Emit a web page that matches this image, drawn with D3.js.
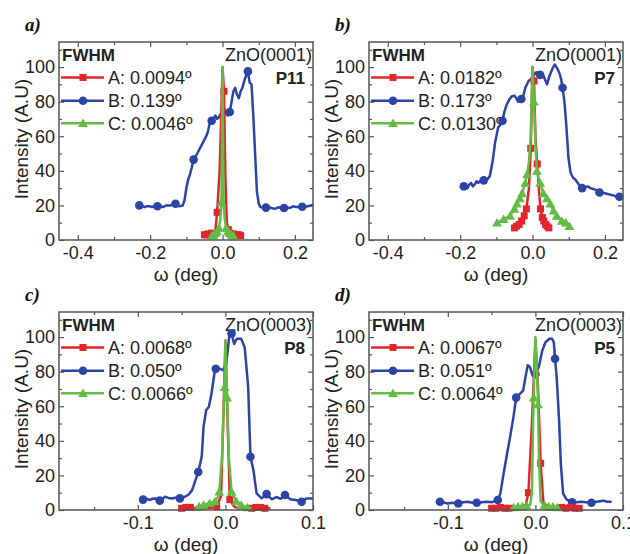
<!DOCTYPE html>
<html>
<head>
<meta charset="utf-8">
<script src="https://cdn.jsdelivr.net/npm/d3@7"></script>
<style>
  body { margin: 0; background: #fff; }
  svg { display: block; font-family: "Liberation Sans", Arial, sans-serif; }
</style>
</head>
<body>
<svg id="chart" width="630" height="554"></svg>
<script>
// omega scans, intensity normalised to 100
const blueA = [[-0.23,20],[-0.225,20],[-0.22,19.5],[-0.215,19],[-0.21,19.5],[-0.2,19.5],[-0.195,19],[-0.19,19.5],[-0.18,19.5],[-0.17,19.5],[-0.165,19],[-0.155,20],[-0.145,20],[-0.135,20.5],[-0.13,21],[-0.12,19.5],[-0.11,20],[-0.105,23],[-0.1,30],[-0.095,35],[-0.09,38],[-0.085,42],[-0.08,46.5],[-0.075,48],[-0.07,50],[-0.06,54],[-0.05,58],[-0.045,60],[-0.04,63],[-0.035,68],[-0.03,69],[-0.025,70],[-0.02,72],[-0.015,70],[-0.01,71],[-0.005,73],[0,75],[0.005,76],[0.01,73],[0.015,72],[0.02,74],[0.025,80],[0.03,86],[0.035,88],[0.04,84],[0.045,82],[0.05,86],[0.055,88],[0.06,92],[0.065,95],[0.07,97.5],[0.075,91],[0.08,90],[0.085,72],[0.09,50],[0.095,28],[0.1,21],[0.105,19],[0.115,18.5],[0.125,19],[0.135,18.5],[0.145,18],[0.155,19],[0.165,18],[0.175,19],[0.185,18.5],[0.195,19.5],[0.205,19],[0.215,19.5],[0.225,19],[0.235,19.5],[0.245,20],[0.25,20.5]];
const blueAMarks = [[-0.23,20],[-0.18,19.5],[-0.13,21],[-0.08,46.5],[-0.03,69],[0.02,74],[0.07,97.5],[0.12,18.7],[0.17,18.5],[0.22,19.2]];
const redA = [[-0.05,3],[-0.045,3],[-0.04,3.5],[-0.035,3],[-0.03,4],[-0.025,3],[-0.02,5],[-0.015,16],[-0.008,40],[0,100],[0.004,86],[0.008,35],[0.012,10],[0.016,6],[0.02,4],[0.025,3],[0.03,3.5],[0.035,3],[0.04,3],[0.045,3],[0.05,2.5],[0.055,2.5]];
const redAMarks = [[-0.05,3],[-0.045,3],[-0.04,3.5],[-0.035,3],[-0.03,4],[-0.025,3],[-0.015,16],[0.004,86],[0.016,6],[0.02,4],[0.025,3],[0.03,3.5],[0.035,3],[0.04,3],[0.045,3],[0.05,2.5]];
const greenA = [[-0.035,2],[-0.03,2.5],[-0.025,3],[-0.02,4],[-0.015,5],[-0.01,7],[-0.006,12],[-0.003,22],[-0.001,70],[0,100],[0.001,70],[0.003,22],[0.006,12],[0.01,7],[0.015,5],[0.02,4],[0.025,3],[0.03,2.5],[0.035,2]];
const greenAMarks = [[-0.03,2.5],[-0.025,3],[-0.02,4],[-0.015,5],[-0.01,7],[-0.003,22],[0.01,7],[0.015,5],[0.02,4],[0.025,3],[0.03,2.5]];

const blueB = [[-0.195,31.5],[-0.19,31],[-0.185,30.5],[-0.18,30],[-0.175,32],[-0.17,33],[-0.165,31],[-0.16,32],[-0.155,34],[-0.15,33],[-0.145,34],[-0.14,35],[-0.135,34.5],[-0.125,35],[-0.118,37],[-0.11,46],[-0.103,57],[-0.095,65],[-0.088,67],[-0.083,69],[-0.078,74],[-0.072,78],[-0.065,81],[-0.058,83],[-0.05,83.5],[-0.045,82],[-0.04,80],[-0.031,81.5],[-0.026,83],[-0.02,88],[-0.011,92],[-0.005,93],[0,94],[0.006,96],[0.011,97],[0.016,96.5],[0.021,95.5],[0.025,96],[0.03,95],[0.034,93],[0.04,90],[0.047,95],[0.055,99],[0.061,101.5],[0.066,100],[0.07,98.5],[0.075,96],[0.079,93],[0.083,88],[0.088,80],[0.092,70],[0.096,58],[0.099,48],[0.105,39],[0.112,36],[0.118,35],[0.125,33],[0.132,31],[0.137,30],[0.145,30.5],[0.152,31],[0.16,30],[0.168,29.5],[0.175,29],[0.185,27.5],[0.19,27.5],[0.2,27],[0.21,26.5],[0.218,26],[0.228,25.5],[0.24,25],[0.245,24]];
const blueBMarks = [[-0.19,31],[-0.135,34.5],[-0.083,69],[-0.031,81.5],[0.021,95.5],[0.083,88],[0.137,30],[0.185,27.5],[0.24,25]];
const redB = [[-0.05,7],[-0.044,8],[-0.037,9],[-0.03,11],[-0.023,14],[-0.017,18],[-0.01,30],[-0.005,53],[0,100],[0.004,92],[0.008,60],[0.013,44],[0.018,28],[0.022,18],[0.027,13],[0.031,11],[0.036,9],[0.04,8],[0.045,7]];
const redBMarks = [[-0.05,7],[-0.044,8],[-0.037,9],[-0.03,11],[-0.023,14],[-0.017,18],[-0.005,53],[0.004,92],[0.013,44],[0.022,18],[0.027,13],[0.031,11],[0.036,9],[0.04,8],[0.045,7]];
const greenB = [[-0.098,10],[-0.08,12],[-0.062,14],[-0.05,18],[-0.043,21],[-0.035,24],[-0.029,27],[-0.02,33],[-0.015,38],[-0.01,45],[-0.005,60],[0,100],[0.004,80],[0.008,55],[0.012,40],[0.016,36],[0.021,33],[0.03,27],[0.04,24],[0.049,21],[0.058,17],[0.067,14],[0.081,11],[0.092,10],[0.102,8]];
const greenBMarks = [[-0.098,10],[-0.08,12],[-0.062,14],[-0.05,18],[-0.043,21],[-0.035,24],[-0.029,27],[-0.02,33],[-0.015,38],[0.004,80],[0.012,40],[0.021,33],[0.03,27],[0.04,24],[0.049,21],[0.058,17],[0.067,14],[0.081,11],[0.092,10],[0.102,8]];

const blueC = [[-0.096,6.2],[-0.094,6],[-0.09,6.5],[-0.087,5.8],[-0.083,6.5],[-0.08,6.7],[-0.075,5.4],[-0.072,6.2],[-0.069,7.7],[-0.065,7],[-0.061,6.7],[-0.056,7.2],[-0.052,6.7],[-0.046,7.7],[-0.042,9],[-0.038,11.5],[-0.033,19],[-0.031,22],[-0.027,31],[-0.025,48],[-0.022,57.7],[-0.019,59.6],[-0.016,67],[-0.012,80.8],[-0.011,81.7],[-0.006,81.7],[-0.003,80.8],[0.001,84.6],[0.0045,101],[0.007,102],[0.01,96],[0.013,99],[0.018,99],[0.022,94],[0.026,71],[0.0286,30.8],[0.032,23],[0.0356,9.6],[0.0413,6.7],[0.047,9.2],[0.053,6.2],[0.058,7.5],[0.063,6.5],[0.068,8.7],[0.074,6.2],[0.08,5.8],[0.087,4.8],[0.0925,6.7],[0.1,6.7]];
const blueCMarks = [[-0.094,6],[-0.075,5.4],[-0.052,6.7],[-0.031,22],[-0.011,81.7],[0.007,102],[0.0286,30.8],[0.047,9.2],[0.068,8.7],[0.087,4.8]];
const redC = [[-0.05,1],[-0.045,1.5],[-0.04,1.5],[-0.035,1],[-0.03,1],[-0.025,1],[-0.02,1],[-0.015,1.5],[-0.01,2],[-0.005,8],[-0.002,60],[0,98],[0.002,60],[0.005,6],[0.01,2],[0.015,1],[0.02,1],[0.025,1],[0.03,1],[0.035,1.5],[0.04,1.5],[0.045,1],[0.05,1]];
const redCMarks = [[-0.05,1],[-0.045,1.5],[-0.04,1.5],[-0.01,2],[0.005,6],[0.03,1],[0.035,1.5],[0.04,1.5],[0.045,1]];
const greenC = [[-0.035,1.5],[-0.03,2],[-0.025,3],[-0.018,4],[-0.012,5],[-0.008,8],[-0.007,10.6],[-0.004,30],[-0.001,71],[0,98],[0.002,65],[0.004,30],[0.007,10.6],[0.0126,5],[0.018,3],[0.025,1.5],[0.03,1]];
const greenCMarks = [[-0.03,2],[-0.025,3],[-0.018,4],[-0.012,5],[-0.007,10.6],[-0.001,71],[0.002,65],[0.007,10.6],[0.0126,5],[0.018,3],[0.025,1.5]];

const blueD = [[-0.111,4.8],[-0.109,4.8],[-0.1,3.8],[-0.095,4.2],[-0.088,3.8],[-0.082,4.5],[-0.077,4.8],[-0.072,4.2],[-0.067,4.2],[-0.061,4.5],[-0.055,4.8],[-0.049,4.5],[-0.043,5.8],[-0.04,9.6],[-0.037,19],[-0.033,30.8],[-0.029,42],[-0.025,54],[-0.022,65],[-0.018,67],[-0.014,69],[-0.0113,77],[-0.0088,83.7],[-0.0063,82.7],[-0.004,78.8],[-0.0015,79],[0,78.5],[0.0039,82.7],[0.0077,92],[0.0115,97],[0.016,99],[0.019,99],[0.021,97],[0.0224,87.5],[0.0243,77],[0.027,52],[0.029,27],[0.0316,9.6],[0.0354,6.2],[0.0419,4.5],[0.047,4.5],[0.052,4.8],[0.058,4.5],[0.064,4.2],[0.07,4.8],[0.0775,5.4],[0.082,4.8],[0.087,4.8]];
const blueDMarks = [[-0.109,4.8],[-0.088,3.8],[-0.067,4.2],[-0.043,5.8],[-0.022,65],[0,78.5],[0.0224,87.5],[0.0419,4.5],[0.064,4.2]];
const redD = [[-0.05,1],[-0.045,1],[-0.04,1.5],[-0.035,1],[-0.03,1],[-0.025,1.5],[-0.02,1],[-0.015,1.5],[-0.011,3],[-0.008,10],[-0.004,50],[0,98],[0.003,70],[0.006,27],[0.009,5],[0.013,2],[0.018,1],[0.025,1],[0.03,1.5],[0.035,1],[0.04,1.5],[0.045,1],[0.05,1]];
const redDMarks = [[-0.05,1],[-0.045,1],[-0.04,1.5],[-0.035,1],[-0.03,1],[-0.008,10],[0.006,27],[0.03,1.5],[0.035,1],[0.04,1.5],[0.045,1],[0.05,1]];
const greenD = [[-0.025,1.5],[-0.02,2],[-0.015,2],[-0.01,2.5],[-0.006,3],[-0.004,10],[-0.003,40],[-0.002,65],[0,100],[0.002,80],[0.003,61],[0.004,30],[0.006,5],[0.01,2.5],[0.015,2],[0.02,2],[0.025,1.5]];
const greenDMarks = [[-0.025,1.5],[-0.02,2],[-0.015,2],[-0.01,2.5],[-0.002,65],[0.003,61],[0.01,2.5],[0.015,2],[0.02,2],[0.025,1.5]];

// legend / annotation text
const fwhmA = ["A: 0.0094º", "B: 0.139º", "C: 0.0046º"];
const fwhmB = ["A: 0.0182º", "B: 0.173º", "C: 0.0130º"];
const fwhmC = ["A: 0.0068º", "B: 0.050º", "C: 0.0066º"];
const fwhmD = ["A: 0.0067º", "B: 0.051º", "C: 0.0064º"];
const reflections = ["ZnO(0001)", "ZnO(0001)", "ZnO(0003)", "ZnO(0003)"];
const samples = ["P11", "P7", "P8", "P5"];
const panelLabels = ["a)", "b)", "c)", "d)"];

// tick values
const wideTicks = [-0.4, -0.2, 0.0, 0.2];
const wideMinor = [-0.3, -0.1, 0.1];
const narrowTicks = [-0.1, 0.0, 0.1];
const narrowMinor = [-0.15, -0.05, 0.05];
const yTicks = [0, 20, 40, 60, 80, 100];
const yMinor = [10, 30, 50, 70, 90, 110];

const colors = { A: "#e3242b", B: "#2c44a6", C: "#62bd45" };

const svg = d3.select("#chart");

const panels = [
  { left: 59,  top: 42,  xdom: [-0.452, 0.25], ticks: wideTicks, minor: wideMinor, blue: blueA, blueM: blueAMarks, red: redA, redM: redAMarks, green: greenA, greenM: greenAMarks, fwhm: fwhmA },
  { left: 369, top: 42,  xdom: [-0.452, 0.25], ticks: wideTicks, minor: wideMinor, blue: blueB, blueM: blueBMarks, red: redB, redM: redBMarks, green: greenB, greenM: greenBMarks, fwhm: fwhmB },
  { left: 59,  top: 312, xdom: [-0.19, 0.1], ticks: narrowTicks, minor: narrowMinor, blue: blueC, blueM: blueCMarks, red: redC, redM: redCMarks, green: greenC, greenM: greenCMarks, fwhm: fwhmC },
  { left: 369, top: 312, xdom: [-0.19, 0.1], ticks: narrowTicks, minor: narrowMinor, blue: blueD, blueM: blueDMarks, red: redD, redM: redDMarks, green: greenD, greenM: greenDMarks, fwhm: fwhmD }
];
const W = 254, H = 198;

function marker(g, kind, pts, x, y) {
  const c = colors[kind];
  if (kind === "A") {
    g.selectAll(null).data(pts).enter().append("rect")
      .attr("x", d => x(d[0]) - 3.5).attr("y", d => y(d[1]) - 3.5)
      .attr("width", 7).attr("height", 7).attr("fill", c);
  } else if (kind === "B") {
    g.selectAll(null).data(pts).enter().append("circle")
      .attr("cx", d => x(d[0])).attr("cy", d => y(d[1])).attr("r", 4.3).attr("fill", c);
  } else {
    const tri = d3.symbol().type(d3.symbolTriangle).size(42);
    g.selectAll(null).data(pts).enter().append("path")
      .attr("d", tri).attr("transform", d => `translate(${x(d[0])},${y(d[1]) + 1})`).attr("fill", c);
  }
}

panels.forEach(function(p, i) {
  const x = d3.scaleLinear().domain(p.xdom).range([p.left, p.left + W]);
  const y = d3.scaleLinear().domain([0, 114.5]).range([p.top + H, p.top]);
  const g = svg.append("g");

  // ticks on all four sides, pointing in
  const fmtX = d => d.toFixed(1);
  const bottom = g.append("g").attr("transform", `translate(0,${p.top + H})`)
    .call(d3.axisBottom(x).tickValues(p.ticks).tickSize(-5).tickPadding(6).tickFormat(fmtX));
  g.append("g").attr("transform", `translate(0,${p.top + H})`)
    .call(d3.axisBottom(x).tickValues(p.minor).tickSize(-3).tickFormat(""));
  g.append("g").attr("transform", `translate(0,${p.top})`)
    .call(d3.axisTop(x).tickValues(p.ticks).tickSize(-5).tickFormat(""));
  g.append("g").attr("transform", `translate(0,${p.top})`)
    .call(d3.axisTop(x).tickValues(p.minor).tickSize(-3).tickFormat(""));
  const leftAx = g.append("g").attr("transform", `translate(${p.left},0)`)
    .call(d3.axisLeft(y).tickValues(yTicks).tickSize(-5).tickPadding(4).tickFormat(d3.format("d")));
  g.append("g").attr("transform", `translate(${p.left},0)`)
    .call(d3.axisLeft(y).tickValues(yMinor).tickSize(-3).tickFormat(""));
  g.append("g").attr("transform", `translate(${p.left + W},0)`)
    .call(d3.axisRight(y).tickValues(yTicks).tickSize(-5).tickFormat(""));
  g.append("g").attr("transform", `translate(${p.left + W},0)`)
    .call(d3.axisRight(y).tickValues(yMinor).tickSize(-3).tickFormat(""));
  g.selectAll(".domain").remove();
  g.selectAll(".tick line").attr("stroke", "#555").attr("stroke-width", 1.2);
  g.selectAll(".tick text").attr("font-family", "Liberation Sans, Arial, sans-serif")
    .attr("font-size", 18).attr("fill", "#222");

  // legend + annotations
  g.append("text").attr("x", p.left + 3).attr("y", p.top + 19)
    .attr("font-size", 17).attr("font-weight", "bold").attr("fill", "#222").text("FWHM");
  g.append("text").attr("x", p.left + W - 1).attr("y", p.top + 19).attr("text-anchor", "end")
    .attr("font-size", 18).attr("fill", "#222").text(reflections[i]);
  g.append("text").attr("x", p.left + W - 8).attr("y", p.top + 42).attr("text-anchor", "end")
    .attr("font-size", 17).attr("font-weight", "bold").attr("fill", "#222").text(samples[i]);

  const keys = ["A", "B", "C"];
  const legY = [94, 80.5, 67.5];
  keys.forEach(function(k, j) {
    const ly = y(legY[j]);
    g.append("line").attr("x1", p.left + 2).attr("x2", p.left + 45).attr("y1", ly).attr("y2", ly)
      .attr("stroke", colors[k]).attr("stroke-width", 2.5);
    marker(g, k, [[0, 0]], () => p.left + 24, () => ly);
    g.append("text").attr("x", p.left + 49).attr("y", ly + 6.5)
      .attr("font-size", 18).attr("fill", "#222").text(p.fwhm[j]);
  });

  // curves: B under A under C
  const line = d3.line().x(d => x(d[0])).y(d => y(d[1]));
  [["B", p.blue, p.blueM], ["A", p.red, p.redM], ["C", p.green, p.greenM]].forEach(function(s) {
    g.append("path").datum(s[1]).attr("d", line).attr("fill", "none")
      .attr("stroke", colors[s[0]]).attr("stroke-width", 2.5).attr("stroke-linejoin", "round");
    marker(g, s[0], s[2], x, y);
  });

  // frame
  g.append("rect").attr("x", p.left).attr("y", p.top).attr("width", W).attr("height", H)
    .attr("fill", "none").attr("stroke", "#555").attr("stroke-width", 1.5);

  // axis titles
  g.append("text").attr("x", p.left + W / 2).attr("y", p.top + H + 41).attr("text-anchor", "middle")
    .attr("font-size", 19).attr("fill", "#222").text("ω (deg)");
  g.append("text").attr("transform", `translate(${p.left - 31},${p.top + H / 2 - 2}) rotate(-90)`)
    .attr("text-anchor", "middle").attr("font-size", 19).attr("fill", "#222").text("Intensity (A.U)");

  // panel letter
  g.append("text").attr("x", p.left - 34).attr("y", p.top - 11)
    .attr("font-family", "Liberation Serif, Times New Roman, serif").attr("font-style", "italic")
    .attr("font-weight", "bold").attr("font-size", 19).attr("fill", "#111").text(panelLabels[i]);
});
</script>
</body>
</html>
